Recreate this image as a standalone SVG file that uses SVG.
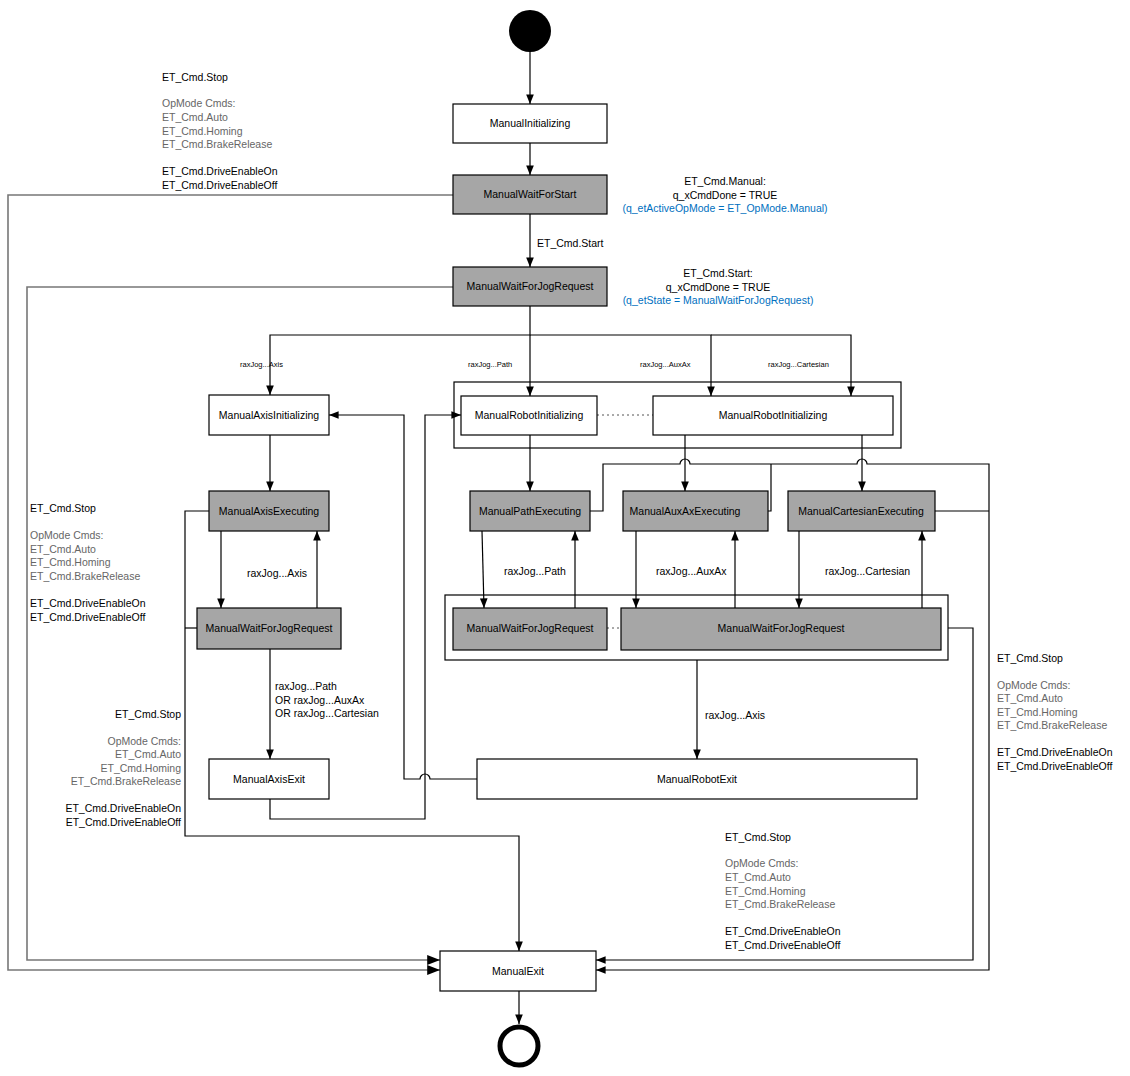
<svg xmlns="http://www.w3.org/2000/svg" width="1130" height="1076" viewBox="0 0 1130 1076">
<style>
text{font-family:"Liberation Sans",Arial,sans-serif;font-size:10.5px;fill:#000}
.g{fill:#666}.b{fill:#0070c0}.s{font-size:7.5px}
.n rect{stroke:#000;stroke-width:1.2;fill:#fff}
.d rect{fill:#a6a6a6}
.n text{text-anchor:middle}
.c path{fill:none;stroke:#000;stroke-width:1.2}
.c .gr{stroke:#777;stroke-width:1.6}
.dot{stroke:#555;stroke-dasharray:2 3;fill:none}
</style>
<defs><marker id="a" viewBox="0 0 10 10" refX="10" refY="5" markerWidth="8" markerHeight="8" orient="auto"><path d="M0,1 L10,5 L0,9z" fill="#000"/></marker></defs>
<rect x="454" y="382" width="447" height="66" fill="none" stroke="#000" stroke-width="1.2"/>
<rect x="445" y="595" width="503" height="65" fill="none" stroke="#000" stroke-width="1.2"/>
<circle cx="530" cy="31" r="21" fill="#000"/>
<circle cx="519" cy="1046" r="19" fill="#fff" stroke="#000" stroke-width="5"/>
<g class="c" marker-end="url(#a)">
<path d="M530,52V104"/><path d="M530,143V175"/><path d="M530,214V267"/>
<path d="M530,306V335H270V395"/><path d="M530,335V396"/><path d="M530,335H711V396"/><path d="M711,335H851V396"/>
<path class="gr" d="M453,195H8V970H440"/>
<path class="gr" d="M453,287H27V960H440"/>
<path d="M270,435V491"/><path d="M221,531V608"/><path d="M317,608V531"/><path d="M270,649V759"/>
<path d="M209,511H185V836H519V951"/><path d="M197,628H185" marker-end="none"/>
<path d="M530,435V491"/><path d="M685,435V491"/><path d="M862,435V491"/>
<path d="M482,531L484,608"/><path d="M575,608V531"/><path d="M636,531V608"/><path d="M735,608V531"/><path d="M799,531V608"/><path d="M922,608V531"/>
<path d="M590,511H603V464H680A5,5 0 0 1 690,464H857A5,5 0 0 1 867,464H989V970H596"/>
<path d="M768,511H771V464" marker-end="none"/><path d="M935,511H989" marker-end="none"/>
<path d="M948,628H973V960H596"/>
<path d="M697,660V759"/>
<path d="M477,779H430A5,5 0 0 0 420,779H404V415H329"/>
<path d="M270,799V819H425V415H461"/>
<path d="M519,991V1024"/>
</g>
<path class="dot" d="M597,415H653M607,628H621"/>
<g id="n1" class="n"><rect x="453" y="104" width="154" height="39"/><text x="530" y="127">ManualInitializing</text></g>
<g id="n2" class="n d"><rect x="453" y="175" width="154" height="39"/><text x="530" y="198">ManualWaitForStart</text></g>
<g id="n3" class="n d"><rect x="453" y="267" width="154" height="39"/><text x="530" y="290">ManualWaitForJogRequest</text></g>
<g id="n4" class="n"><rect x="209" y="395" width="120" height="40"/><text x="269" y="419">ManualAxisInitializing</text></g>
<g id="n5" class="n"><rect x="461" y="396" width="136" height="39"/><text x="529" y="419">ManualRobotInitializing</text></g>
<g id="n6" class="n"><rect x="653" y="396" width="240" height="39"/><text x="773" y="419">ManualRobotInitializing</text></g>
<g id="n7" class="n d"><rect x="209" y="491" width="120" height="40"/><text x="269" y="515">ManualAxisExecuting</text></g>
<g id="n8" class="n d"><rect x="470" y="491" width="120" height="40"/><text x="530" y="515">ManualPathExecuting</text></g>
<g id="n9" class="n d"><rect x="623" y="491" width="145" height="40"/><text x="685" y="515">ManualAuxAxExecuting</text></g>
<g id="n10" class="n d"><rect x="788" y="491" width="147" height="40"/><text x="861" y="515">ManualCartesianExecuting</text></g>
<g id="n11" class="n d"><rect x="197" y="608" width="144" height="41"/><text x="269" y="632">ManualWaitForJogRequest</text></g>
<g id="n12" class="n d"><rect x="453" y="608" width="154" height="42"/><text x="530" y="632">ManualWaitForJogRequest</text></g>
<g id="n13" class="n d"><rect x="621" y="608" width="320" height="42"/><text x="781" y="632">ManualWaitForJogRequest</text></g>
<g id="n14" class="n"><rect x="209" y="759" width="120" height="40"/><text x="269" y="783">ManualAxisExit</text></g>
<g id="n15" class="n"><rect x="477" y="759" width="440" height="40"/><text x="697" y="783">ManualRobotExit</text></g>
<g id="n16" class="n"><rect x="440" y="951" width="156" height="40"/><text x="518" y="975">ManualExit</text></g>
<g id="labels">
<text x="162" y="81">ET_Cmd.Stop</text><text x="162" y="107" class="g">OpMode Cmds:</text><text x="162" y="121" class="g">ET_Cmd.Auto</text><text x="162" y="135" class="g">ET_Cmd.Homing</text><text x="162" y="148" class="g">ET_Cmd.BrakeRelease</text><text x="162" y="175">ET_Cmd.DriveEnableOn</text><text x="162" y="189">ET_Cmd.DriveEnableOff</text>
<g text-anchor="middle"><text x="725" y="185">ET_Cmd.Manual:</text><text x="725" y="199">q_xCmdDone = TRUE</text><text x="725" y="212" class="b">(q_etActiveOpMode = ET_OpMode.Manual)</text>
<text x="718" y="277">ET_Cmd.Start:</text><text x="718" y="291">q_xCmdDone = TRUE</text><text x="718" y="304" class="b">(q_etState = ManualWaitForJogRequest)</text></g>
<text x="537" y="247">ET_Cmd.Start</text>
<text x="240" y="367" class="s">raxJog...Axis</text><text x="468" y="367" class="s">raxJog...Path</text><text x="640" y="367" class="s">raxJog...AuxAx</text><text x="768" y="367" class="s">raxJog...Cartesian</text>
<text x="247" y="577">raxJog...Axis</text><text x="504" y="575">raxJog...Path</text><text x="656" y="575">raxJog...AuxAx</text><text x="825" y="575">raxJog...Cartesian</text>
<text x="275" y="690">raxJog...Path</text><text x="275" y="704">OR raxJog...AuxAx</text><text x="275" y="717">OR raxJog...Cartesian</text>
<text x="705" y="719">raxJog...Axis</text>
<text x="30" y="512">ET_Cmd.Stop</text><text x="30" y="539" class="g">OpMode Cmds:</text><text x="30" y="553" class="g">ET_Cmd.Auto</text><text x="30" y="566" class="g">ET_Cmd.Homing</text><text x="30" y="580" class="g">ET_Cmd.BrakeRelease</text><text x="30" y="607">ET_Cmd.DriveEnableOn</text><text x="30" y="621">ET_Cmd.DriveEnableOff</text>
<g text-anchor="end"><text x="181" y="718">ET_Cmd.Stop</text><text x="181" y="745" class="g">OpMode Cmds:</text><text x="181" y="758" class="g">ET_Cmd.Auto</text><text x="181" y="772" class="g">ET_Cmd.Homing</text><text x="181" y="785" class="g">ET_Cmd.BrakeRelease</text><text x="181" y="812">ET_Cmd.DriveEnableOn</text><text x="181" y="826">ET_Cmd.DriveEnableOff</text></g>
<text x="997" y="662">ET_Cmd.Stop</text><text x="997" y="689" class="g">OpMode Cmds:</text><text x="997" y="702" class="g">ET_Cmd.Auto</text><text x="997" y="716" class="g">ET_Cmd.Homing</text><text x="997" y="729" class="g">ET_Cmd.BrakeRelease</text><text x="997" y="756">ET_Cmd.DriveEnableOn</text><text x="997" y="770">ET_Cmd.DriveEnableOff</text>
<text x="725" y="841">ET_Cmd.Stop</text><text x="725" y="867" class="g">OpMode Cmds:</text><text x="725" y="881" class="g">ET_Cmd.Auto</text><text x="725" y="895" class="g">ET_Cmd.Homing</text><text x="725" y="908" class="g">ET_Cmd.BrakeRelease</text><text x="725" y="935">ET_Cmd.DriveEnableOn</text><text x="725" y="949">ET_Cmd.DriveEnableOff</text>
</g>
</svg>
